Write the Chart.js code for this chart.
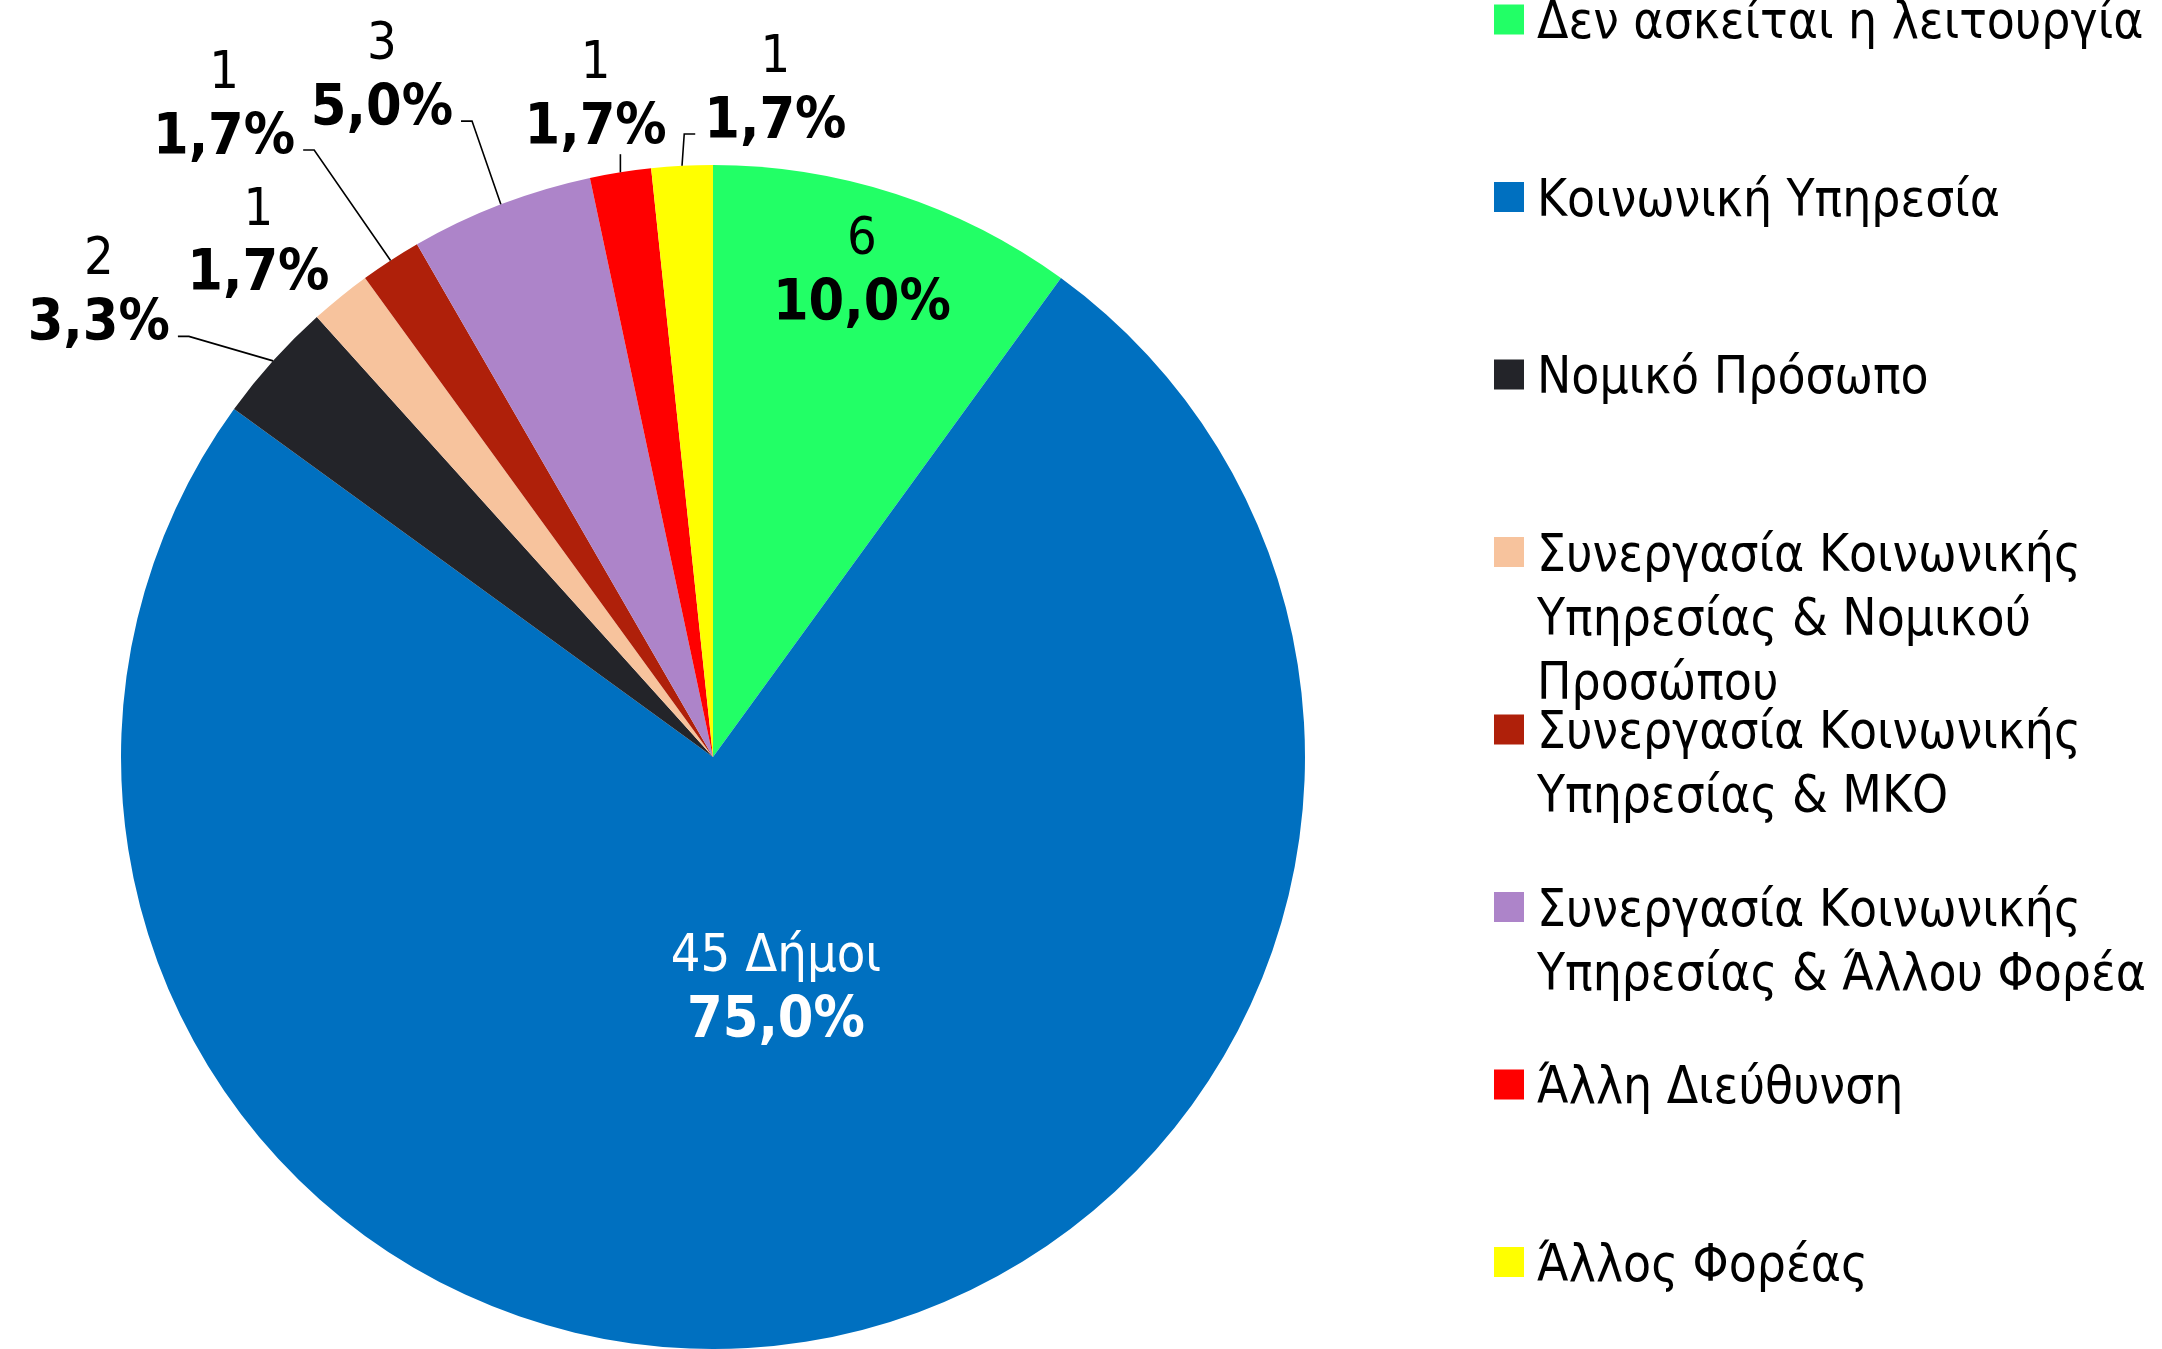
<!DOCTYPE html>
<html>
<head>
<meta charset="utf-8">
<script src="https://cdn.jsdelivr.net/npm/chart.js@4.4.1/dist/chart.umd.min.js"></script>
<style>
  html, body { margin: 0; padding: 0; background: #fff; overflow: hidden; }
  #wrap { width: 2162px; height: 1349px; position: relative; }
</style>
</head>
<body>
<div id="wrap"><canvas id="pieChart"></canvas></div>
<script>
// categories (multi-line where the legend wraps)
const categories = [
    'Δεν ασκείται η λειτουργία',
    'Κοινωνική Υπηρεσία',
    'Νομικό Πρόσωπο',
    ['Συνεργασία Κοινωνικής', 'Υπηρεσίας & Νομικού', 'Προσώπου'],
    ['Συνεργασία Κοινωνικής', 'Υπηρεσίας & ΜΚΟ'],
    ['Συνεργασία Κοινωνικής', 'Υπηρεσίας & Άλλου Φορέα'],
    'Άλλη Διεύθυνση',
    'Άλλος Φορέας'
];
const counts = [6, 45, 2, 1, 1, 3, 1, 1];
const countSuffix = ['', ' Δήμοι', '', '', '', '', '', ''];
const sliceColors = ['#22FF66', '#0070C0', '#232429', '#F7C39D', '#AF200A', '#AD84C9', '#FF0000', '#FFFF00'];

// where each data label sits: angle shift (deg) from slice middle, distance in radii
const labelPlacement = [
    { angle: -1.1, dist: 0.865, leader: false },
    { angle: -6.5, dist: 0.398, leader: false, color: '#fff' },
    { angle: -4.6, dist: 1.306, leader: true },
    { angle: -2.2, dist: 1.166, leader: false },
    { angle: -3.7, dist: 1.382, leader: true },
    { angle: -4.8, dist: 1.285, leader: true },
    { angle: -1.0, dist: 1.142, leader: true },
    { angle: 8.3, dist: 1.140, leader: true }
];

const labelFont = '"DejaVu Sans Condensed", "DejaVu Sans", sans-serif';
const total = counts.reduce((a, b) => a + b, 0);
const pct = v => (v / total * 100).toFixed(1).replace('.', ',') + '%';

const sliceLabels = {
    id: 'sliceLabels',
    afterDatasetsDraw(chart) {
        const ctx = chart.ctx;
        const meta = chart.getDatasetMeta(0);
        meta.data.forEach((arc, i) => {
            const p = arc.getProps(['x', 'y', 'startAngle', 'endAngle', 'outerRadius'], true);
            const place = labelPlacement[i];
            const mid = (p.startAngle + p.endAngle) / 2;
            const a = mid + place.angle * Math.PI / 180;
            const cx = p.x + Math.cos(a) * p.outerRadius * place.dist;
            const cy = p.y + Math.sin(a) * p.outerRadius * place.dist;
            const line1 = counts[i] + countSuffix[i];
            const line2 = pct(counts[i]);

            ctx.save();
            ctx.fillStyle = place.color || '#000';
            ctx.textAlign = 'center';
            ctx.textBaseline = 'alphabetic';
            ctx.font = '52px ' + labelFont;
            const w1 = ctx.measureText(line1).width;
            ctx.fillText(line1, cx, cy - 32 + 0.729 * 52 / 2);
            ctx.font = 'bold 57px ' + labelFont;
            const w2 = ctx.measureText(line2).width;
            ctx.fillText(line2, cx, cy + 32 + 0.729 * 57 / 2);

            if (place.leader) {
                const w = Math.max(w1, w2);
                const left = cx - w / 2, right = cx + w / 2;
                const ex = p.x + Math.cos(mid) * p.outerRadius;
                const ey = p.y + Math.sin(mid) * p.outerRadius;
                ctx.strokeStyle = '#000';
                ctx.lineWidth = 1.6;
                ctx.beginPath();
                ctx.moveTo(ex, ey);
                if (ex > right + 10) {
                    ctx.lineTo(right + 19, cy + 49);
                    ctx.lineTo(right + 8, cy + 49);
                } else if (ex < left - 10) {
                    ctx.lineTo(left - 20, cy + 49);
                    ctx.lineTo(left - 9, cy + 49);
                } else {
                    ctx.lineTo(ex, cy + 63);
                }
                ctx.stroke();
            }
            ctx.restore();
        });
    }
};

const sideLegend = {
    id: 'sideLegend',
    afterDraw(chart, args, opts) {
        const ctx = chart.ctx;
        const colors = chart.data.datasets[0].backgroundColor;
        ctx.save();
        ctx.font = opts.fontSize + 'px ' + labelFont;
        ctx.fillStyle = '#000';
        ctx.textAlign = 'left';
        ctx.textBaseline = 'alphabetic';
        chart.data.labels.forEach((label, i) => {
            const y = opts.firstY + i * opts.itemGap;
            ctx.fillStyle = colors[i];
            ctx.fillRect(opts.boxX, y - opts.boxSize / 2, opts.boxSize, opts.boxSize);
            ctx.fillStyle = '#000';
            const lines = Array.isArray(label) ? label : [label];
            lines.forEach((t, k) => {
                ctx.fillText(t, opts.textX, y + k * opts.lineHeight + 0.729 * opts.fontSize / 2);
            });
        });
        ctx.restore();
    }
};

const chart = new Chart(document.getElementById('pieChart').getContext('2d'), {
    type: 'pie',
    data: {
        labels: categories,
        datasets: [{
            data: counts,
            backgroundColor: sliceColors,
            borderWidth: 0
        }]
    },
    options: {
        responsive: true,
        maintainAspectRatio: false,
        animation: false,
        layout: { padding: { left: 121, right: 857, top: 165, bottom: 0 } },
        plugins: {
            legend: { display: false },
            tooltip: { enabled: false },
            sideLegend: { boxX: 1494, boxSize: 30, textX: 1537, firstY: 19.5, itemGap: 177.5, lineHeight: 64, fontSize: 51 }
        }
    },
    plugins: [sliceLabels, sideLegend]
});
</script>
</body>
</html>
